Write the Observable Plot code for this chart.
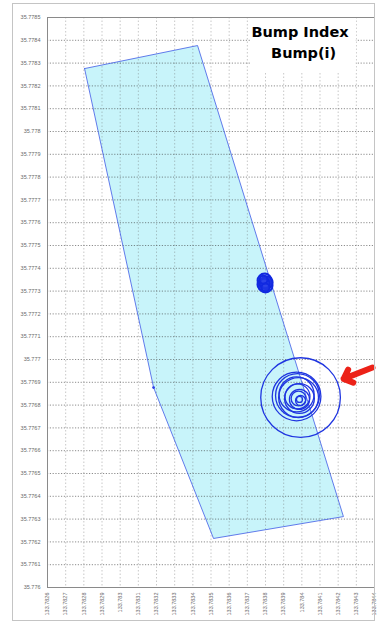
<!DOCTYPE html>
<html>
<head>
<meta charset="utf-8">
<script src="https://cdn.jsdelivr.net/npm/d3@7"></script>
<script src="https://cdn.jsdelivr.net/npm/@observablehq/plot@0.6"></script>
<style>
  html, body { margin: 0; padding: 0; background: #fff; }
  #wrap { position: relative; width: 378px; height: 624px; overflow: hidden; }
  #wrap svg { position: absolute; left: 0; top: 0; }
  #border { position: absolute; left: 12px; top: 3px; width: 363px; height: 618px; border: 1.5px solid #c4c4c4; box-sizing: border-box; pointer-events: none; }
</style>
</head>
<body>
<div id="wrap"><div id="border"></div></div>
<script>
// Tick labels
const xTicks = [133.7826, 133.7827, 133.7828, 133.7829, 133.783, 133.7831, 133.7832, 133.7833, 133.7834, 133.7835, 133.7836, 133.7837, 133.7838, 133.7839, 133.784, 133.7841, 133.7842, 133.7843, 133.7844];
const yTicks = [35.776, 35.7761, 35.7762, 35.7763, 35.7764, 35.7765, 35.7766, 35.7767, 35.7768, 35.7769, 35.777, 35.7771, 35.7772, 35.7773, 35.7774, 35.7775, 35.7776, 35.7777, 35.7778, 35.7779, 35.778, 35.7781, 35.7782, 35.7783, 35.7784, 35.7785];

// Road area polygon (lon, lat)
const areaLon = [133.782804, 133.783426, 133.784229, 133.783514, 133.783184, 133.782804];
const areaLat = [35.778276, 35.778377, 35.776311, 35.776215, 35.776877, 35.778276];

// Bump index rings: centre lon, lat, radius (m)
const ringLon = [133.783993, 133.783971, 133.783976, 133.783982, 133.783971, 133.783987, 133.783976, 133.783987, 133.783982, 133.783993, 133.783987];
const ringLat = [35.776833, 35.776838, 35.776842, 35.776833, 35.776847, 35.776829, 35.776838, 35.776825, 35.776829, 35.776820, 35.776825];
const ringR   = [19.8, 12.1, 10.9, 9.9, 8.7, 7.4, 6.2, 5.0, 3.7, 2.5, 1.5];

// Small cluster of rings
const clusterLon = [133.783795, 133.783800, 133.783789, 133.783806, 133.783795, 133.783789, 133.783800];
const clusterLat = [35.777346, 35.777325, 35.777329, 35.777338, 35.777333, 35.777350, 35.777316];
const clusterR   = [3.5, 3.5, 3.0, 3.0, 2.5, 2.0, 2.0];

// Single small point (polygon vertex marker)
const pointLon = [133.783184];
const pointLat = [35.776877];

// Red arrow (tail -> tip)
const arrowTail = [133.784389, 35.776965];
const arrowTip  = [133.784230, 35.776915];

// Title
const titleLines = ["Bump Index", "Bump(i)"];
const titleLon = [133.783990, 133.784010];
const titleLat = [35.778437, 35.778341];
const titleBox = {x1: 133.783720, x2: 133.784300, y1: 35.778259, y2: 35.7785};

const W = 378, H = 624, mL = 47, mR = 4, mT = 17, mB = 37;
const xDomain = [xTicks[0], xTicks[xTicks.length - 1]];
const yDomain = [yTicks[0], yTicks[yTicks.length - 1]];
const metersX = (xDomain[1] - xDomain[0]) * 111320 * Math.cos(35.777 * Math.PI / 180);
const pxPerM = (W - mL - mR) / metersX;

const area = areaLon.map((x, i) => ({x, y: areaLat[i]}));
const rings = ringLon.map((x, i) => ({x, y: ringLat[i], r: ringR[i]}));
const cluster = clusterLon.map((x, i) => ({x, y: clusterLat[i], r: clusterR[i]}));
const pts = pointLon.map((x, i) => ({x, y: pointLat[i]}));
const arrows = [{x1: arrowTail[0], y1: arrowTail[1], x2: arrowTip[0], y2: arrowTip[1]}];
const titles = titleLines.map((t, i) => ({t, x: titleLon[i], y: titleLat[i]}));
const fmt = d => String(+d.toFixed(4));

const chart = Plot.plot({
  width: W, height: H,
  marginLeft: mL, marginRight: mR, marginTop: mT, marginBottom: mB,
  style: {fontFamily: "Liberation Sans, Arial, sans-serif", fontSize: "5.5px", color: "#6a6a6a", background: "transparent"},
  x: {domain: xDomain, ticks: xTicks, tickFormat: fmt, tickRotate: -90, tickSize: 0, tickPadding: 5, label: null},
  y: {domain: yDomain, ticks: yTicks, tickFormat: fmt, tickSize: 0, tickPadding: 7, label: null},
  r: {type: "linear", domain: [0, 1], range: [0, pxPerM]},
  marks: [
    Plot.line(area, {x: "x", y: "y", fill: "#c8f4fa", stroke: "none"}),
    Plot.ruleX(xTicks, {stroke: "#666", strokeOpacity: 0.45, strokeDasharray: "1.5,2", strokeWidth: 0.8}),
    Plot.ruleY(yTicks, {stroke: "#333", strokeOpacity: 0.7, strokeDasharray: "1.2,1.6", strokeWidth: 0.8}),
    Plot.line(area, {x: "x", y: "y", stroke: "#3f5ae6", strokeWidth: 0.8}),
    Plot.rect([titleBox], {x1: "x1", x2: "x2", y1: "y1", y2: "y2", fill: "white"}),
    Plot.frame({stroke: "#8a8a8a", strokeWidth: 1}),
    Plot.dot(rings, {x: "x", y: "y", r: "r", stroke: "#1f35e0", strokeWidth: 1.3, fill: "none"}),
    Plot.dot(cluster, {x: "x", y: "y", r: "r", stroke: "#1129e0", strokeWidth: 2, fill: "#2a3fe8", fillOpacity: 0.5}),
    Plot.dot(pts, {x: "x", y: "y", r: 1.4, fill: "#2a3fe8", stroke: "none"}),
    Plot.arrow(arrows, {x1: "x1", y1: "y1", x2: "x2", y2: "y2", stroke: "#ec2218", strokeWidth: 6, headLength: 3.4, headAngle: 85}),
    Plot.text(titles, {x: "x", y: "y", text: "t", fontFamily: "DejaVu Sans, sans-serif", fontWeight: "bold", fontSize: 14.5, fill: "#000", textAnchor: "middle"})
  ]
});
document.getElementById("wrap").prepend(chart);
</script>
</body>
</html>
